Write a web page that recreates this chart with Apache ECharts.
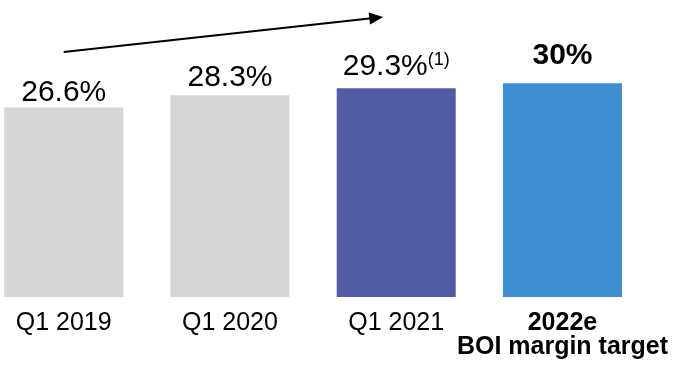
<!DOCTYPE html>
<html>
<head>
<meta charset="utf-8">
<script src="https://cdn.jsdelivr.net/npm/echarts@6/dist/echarts.min.js"></script>
<style>html,body{margin:0;padding:0;background:#fff;overflow:hidden;width:683px;height:368px;position:relative;}#c{position:absolute;left:-20px;top:0;width:703px;height:368px;}</style>
</head>
<body>
<div id="c"></div>
<script>
// ---- data ----
const categories = ['Q1 2019', 'Q1 2020', 'Q1 2021', '2022e'];
const categorySubtitles = ['', '', '', 'BOI margin target'];
const values = [26.6, 28.3, 29.3, 30];
const valueLabels = ['26.6%', '28.3%', '29.3%', '30%'];
const footnotes = ['', '', '(1)', ''];
const trendFrom = [0, 34.4];
const trendTo = [1.88, 39.2];

// ---- styles ----
const barColors = ['#D5D6D8', '#D5D6D8', '#525BA3', '#3F8FD0'];
const labelGap = [0, 3, 7, 13];
const boldIdx = 3;

const chart = echarts.init(document.getElementById('c'), null, {renderer: 'canvas'});
const font = 'Liberation Sans, Arial, sans-serif';

const data = values.map((v, i) => ({
  value: v,
  itemStyle: {color: barColors[i]},
  label: {
    show: true,
    position: 'top',
    distance: labelGap[i],
    formatter: () => (i === boldIdx ? '{b|' + valueLabels[i] + '}' : '{n|' + valueLabels[i] + '}') +
      (footnotes[i] ? '{s|' + footnotes[i] + '}' : ''),
    rich: {
      n: {fontSize: 30, lineHeight: 30, color: '#000', fontFamily: font},
      b: {fontSize: 30, lineHeight: 30, fontWeight: 'bold', color: '#000', fontFamily: font},
      s: {fontSize: 18, lineHeight: 18, color: '#000', fontFamily: font, verticalAlign: 'top'}
    }
  }
}));

chart.setOption({
  animation: false,
  grid: {left: 0.6, width: 665, top: 12, bottom: 71, containLabel: false},
  xAxis: [{
    type: 'category',
    data: categories,
    axisLine: {show: false},
    axisTick: {show: false},
    axisLabel: {
      margin: 14,
      interval: 0,
      formatter: (val, idx) => idx === boldIdx
        ? '{b|' + val + '}\n{b|' + categorySubtitles[idx] + '}'
        : '{n|' + val + '}',
      rich: {
        n: {fontSize: 25, lineHeight: 24, color: '#000', fontFamily: font},
        b: {fontSize: 25, lineHeight: 24, fontWeight: 'bold', color: '#000', fontFamily: font}
      }
    }
  }, {
    type: 'value', min: -0.5, max: 3.5, show: false, splitLine: {show: false}
  }],
  yAxis: {type: 'value', min: 0, max: 40, show: false, splitLine: {show: false}},
  series: [{
    type: 'bar',
    data: data,
    barWidth: 119
  }, {
    type: 'line',
    xAxisIndex: 1,
    data: [],
    markLine: {
      silent: true,
      symbol: ['none', 'triangle'],
      symbolSize: [12, 14],
      label: {show: false},
      lineStyle: {color: '#000', width: 2, type: 'solid'},
      data: [[{coord: trendFrom}, {coord: trendTo}]]
    }
  }]
});
</script>
</body>
</html>
